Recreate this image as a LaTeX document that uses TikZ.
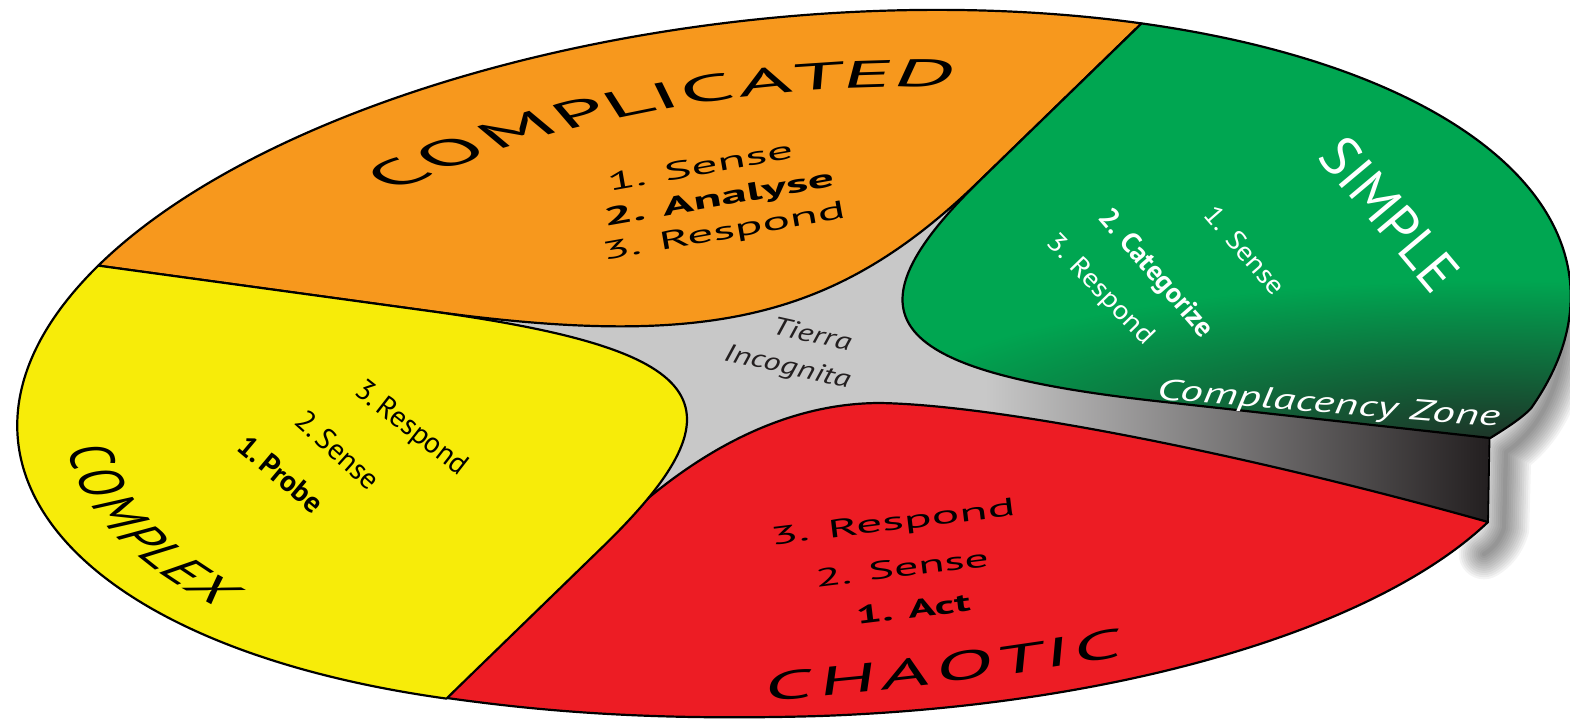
\documentclass[tikz,border=0pt]{standalone}
\usepackage{fontspec}
\setmainfont{PT Sans}
\newfontfamily\chaosfont[FakeStretch=2.1,FakeSlant=0.25]{PT Sans}
\newfontfamily\complicatedfont[FakeStretch=1.1]{PT Sans}
\newfontfamily\complexfont[FakeStretch=1.5]{PT Sans}

\definecolor{cmplorange}{RGB}{247,152,29}
\definecolor{cmplxyellow}{RGB}{247,236,9}
\definecolor{simplegreen}{RGB}{0,166,81}
\definecolor{chaosred}{RGB}{237,28,36}
\definecolor{tierragray}{RGB}{200,200,200}
\definecolor{cliffdark}{RGB}{35,31,32}

% green sector, in the flat (unsquashed) disc
\def\greenzone{(60.8:780) -- (60.8:420) .. controls (60.8:100) and (-26.2:100) .. (-26.2:400)
  -- (-26.2:763) .. controls (-24:772) and (-22.5:778) .. (-21:780)
  arc[start angle=-21, end angle=60.8, radius=780] -- cycle}

\begin{document}
\begin{tikzpicture}[x=0.25mm, y=-0.25mm,
  zone/.style={line width=0.55mm, line join=round},
  flat/.style={shift={(794,361)}, rotate=5.92, yscale=-0.4406},
  flattext/.style={shift={(794,361)}, rotate=5.92, yscale=0.4406},
  letter/.style={transform shape, inner sep=0pt},
  listline/.style={inner sep=0pt, font=\fontsize{18}{22}\selectfont},
  strong/.style={inner sep=0pt, font=\fontsize{18}{22}\selectfont\bfseries},
  note/.style={inner sep=0pt, font=\fontsize{18}{22}\selectfont\itshape}
]
\useasboundingbox (0,0) rectangle (1570,718);

% soft shadow under the raised edge
\foreach \w in {3,6,...,36}
  \draw[line width=\w pt, black, opacity=.045, line cap=round, line join=round]
    (1566,318) .. controls (1563,392) and (1536,432) .. (1506,452) -- (1504,528)
    .. controls (1500,540) and (1494,548) .. (1484,554);

% tierra incognita
\fill[flat, tierragray] (0,0) circle[radius=470];

% cliff face
\shade[left color=tierragray, right color=cliffdark]
  (985,368) -- (1489,432) -- (1488,522) -- (985,428) -- cycle;

% chaotic
\filldraw[zone, fill=chaosred] (447,698) -- (596,547)
  .. controls (660,480) and (760,403) .. (880,403)
  .. controls (1000,405) and (1250,455) .. (1488,522)
  .. controls (1380,625) and (1130,705) .. (820,716)
  .. controls (650,721) and (540,711) .. (447,698) -- cycle;

\begin{scope}[flat]
  % complicated
  \filldraw[zone, fill=cmplorange] (60.8:780) -- (60.8:420)
    .. controls (60.8:95) and (151:95) .. (151:410) -- (151:780)
    arc[start angle=151, end angle=60.8, radius=780] -- cycle;
  % complex
  \filldraw[zone, fill=cmplxyellow] (151:780) -- (151:410)
    .. controls (151:95) and (240.8:95) .. (240.8:430) -- (240.8:780)
    arc[start angle=240.8, end angle=151, radius=780] -- cycle;
  % simple, darkening towards the cliff
  \fill[simplegreen] \greenzone;
  \begin{scope}
    \clip \greenzone;
    \begin{scope}[reset cm]
      \shade[inner color=cliffdark!85!simplegreen, outer color=simplegreen]
        (1490,440) ellipse[x radius=640, y radius=160];
    \end{scope}
  \end{scope}
  \draw[zone] \greenzone;
\end{scope}

\draw[line width=0.45mm] (1489.5,438) -- (1488,522);

% domain names, set on the flat disc
\begin{scope}[flattext]
  \foreach \ch/\p [count=\i] in {C/125.96, O/120.18, M/113.27, P/107.06, L/102.52, I/99.17,
      C/95.29, A/90.00, T/85.16, E/80.61, D/75.37}
    \node[letter, font=\complicatedfont\fontsize{60.5}{68}\selectfont, rotate=\p-90] (complicated\i) at (-\p:638) {\ch};
  \foreach \ch/\p [count=\i] in {C/184.31, O/189.25, M/195.15, P/200.46, L/204.37, E/208.21, X/212.35}
    \node[letter, font=\complexfont\fontsize{44}{52}\selectfont, rotate=\p+90] (complex\i) at (-\p:710) {\ch};
\end{scope}

\node[inner sep=0pt, text=white, font=\fontsize{40}{48}\selectfont, rotate=-50] (simple) at (1390,214) {SIMPLE};

\foreach \ch/\x/\y/\a [count=\i] in {C/785.9/685.3/4.8, H/844.8/679.9/5.7, A/903.5/673.6/6.6,
    O/962.5/666.3/7.4, T/1017.4/658.8/8.3, I/1054.3/653.2/8.8, C/1095.2/646.7/9.4}
  \node[inner sep=0pt, font=\chaosfont\fontsize{28.5}{34}\selectfont, rotate=\a] (chaotic\i) at (\x,\y) {\ch};

% complicated
\node[listline, rotate=10, xscale=2.05] (cxsense) at (700,166) {1. Sense};
\node[strong, rotate=10, xscale=2.05] (cxanalyse) at (719,200) {2. Analyse};
\node[listline, rotate=10, xscale=2.05] (cxrespond) at (724,233) {3. Respond};

% chaotic
\node[listline, rotate=7, xscale=2.05] (chrespond) at (893,524) {3. Respond};
\node[listline, rotate=7, xscale=1.9] (chsense) at (902,568) {2. Sense};
\node[strong, rotate=7, xscale=1.8] (chact) at (913,609) {1. Act};

% complex
\node[listline, font=\fontsize{21}{25}\selectfont, rotate=-38] (cyrespond) at (411,429) {3.\,Respond};
\node[listline, font=\fontsize{21}{25}\selectfont, rotate=-42] (cysense) at (338,450) {2.\,Sense};
\node[strong, font=\fontsize{21}{25}\selectfont\bfseries, rotate=-40] (cyprobe) at (281,474) {1.\,Probe};

% simple
\node[listline, text=white, font=\fontsize{19}{23}\selectfont, rotate=-49, xscale=1.12] (smsense) at (1245,250) {1. Sense};
\node[strong, text=white, font=\fontsize{20}{24}\selectfont\bfseries, rotate=-49] (smcat) at (1155,274) {2. Categorize};
\node[listline, text=white, font=\fontsize{19}{23}\selectfont, rotate=-46, xscale=1.12] (smrespond) at (1100,290) {3. Respond};

\node[note, text=cliffdark, rotate=-12.5, xscale=1.35, anchor=base east] (tierra) at (850,351) {Tierra};
\node[note, text=cliffdark, rotate=-12.5, xscale=1.35, anchor=base east] (incognita) at (849,388) {Incognita};
\node[note, text=white, font=\fontsize{21}{25}\selectfont\itshape, rotate=-4.6, xscale=1.55,
  anchor=base west] (complacency) at (1156,399) {Complacency Zone};

\end{tikzpicture}
\end{document}
